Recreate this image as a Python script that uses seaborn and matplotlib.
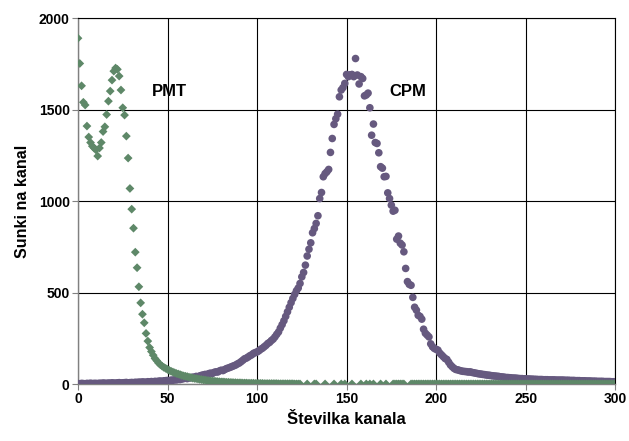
import numpy as np
import matplotlib
matplotlib.use('Agg')
import matplotlib.pyplot as plt
import seaborn as sns

# kanali 0..300
kanali = list(range(301))

# PMT (zeleni rombi), NaN = ni tocke
nan = np.nan
pmt = [
    1890, 1752, 1630, 1540, 1525, 1410, 1350, 1320, 1300, 1290,
    1280, 1246, 1290, 1320, 1380, 1406, 1473, 1546, 1601, 1661,
    1710, 1727, 1720, 1683, 1607, 1510, 1470, 1355, 1235, 1069,
    956, 852, 721, 636, 532, 444, 382, 335, 277, 235,
    200, 178, 158, 140, 128, 115, 106, 98, 91, 86,
    80, 75, 70, 66, 62, 58, 55, 52, 48, 45,
    43, 41, 38, 36, 33, 31, 30, 28, 26, 25,
    23, 22, 20, 19, 18, 17, 16, 15, 14, 13,
    12, 12, 11, 10, 10, 9, 9, 8, 8, 7,
    7, 7, 6, 6, 6, 5, 5, 5, 5, 4,
    4, 4, 4, 4, 3, 3, 3, 3, 3, 3,
    3, 3, 2, 2, 2, 2, 2, 2, 2, 2,
    2, 1, 1, 1, 1, nan, nan, nan, 1, nan,
    nan, nan, 1, 1, nan, nan, nan, nan, 1, nan,
    nan, nan, nan, 1, nan, nan, nan, 1, nan, 1,
    nan, nan, nan, 1, nan, nan, nan, nan, 1, nan,
    nan, 1, nan, 1, nan, 1, nan, nan, nan, 1,
    nan, nan, 1, nan, nan, nan, 1, 1, 1, 1,
    1, 1, 1, nan, nan, nan, 1, 1, 1, 1,
    1, 1, 1, 1, 1, 1, 1, 1, 1, 1,
    1, 1, 1, 1, 1, 1, 1, 1, 1, 1,
    1, 1, 1, 1, 1, 1, 1, 1, 1, 1,
    1, 1, 1, 1, 1, 1, 1, 1, 1, 1,
    1, 1, 1, 1, 1, 1, 1, 1, 1, 1,
    1, 1, 1, 1, 1, 1, 1, 1, 1, 1,
    1, 1, 1, 1, 1, 1, 1, 1, 1, 1,
    1, 1, 1, 1, 1, 1, 1, 1, 1, 1,
    1, 1, 1, 1, 1, 1, 1, 1, 1, 1,
    1, 1, 1, 1, 1, 1, 1, 1, 1, 1,
    1, 1, 1, 1, 1, 1, 1, 1, 1, 1,
    1,
]

# CPM (vijolicni krogi)
cpm = [
    3, 2, 4, 3, 2, 4, 3, 5, 3, 4,
    4, 3, 5, 4, 6, 5, 4, 6, 5, 7,
    6, 5, 7, 8, 6, 7, 8, 9, 7, 8,
    9, 8, 10, 9, 11, 10, 12, 11, 10, 13,
    12, 14, 13, 15, 14, 16, 17, 15, 18, 19,
    20, 18, 22, 21, 24, 23, 26, 25, 28, 30,
    32, 30, 35, 34, 38, 37, 42, 40, 45, 48,
    50, 53, 52, 57, 60, 58, 64, 67, 66, 72,
    76, 74, 80, 85, 88, 92, 96, 100, 104, 110,
    115, 122, 130, 138, 142, 148, 155, 160, 168, 172,
    176, 182, 190, 196, 204, 212, 222, 228, 238, 246,
    258, 272, 285, 306, 325, 346, 370, 395, 420, 445,
    468, 490, 510, 525, 550, 586, 610, 650, 700, 737,
    772, 827, 850, 878, 920, 1014, 1047, 1133, 1150, 1160,
    1173, 1266, 1342, 1419, 1450, 1475, 1570, 1607, 1620, 1643,
    1692, 1680, 1690, 1692, 1680, 1779, 1689, 1640, 1680, 1670,
    1575, 1580, 1590, 1510, 1360, 1421, 1320, 1315, 1264, 1188,
    1180, 1133, 1135, 1045, 1014, 978, 945, 950, 792, 809,
    770, 760, 723, 632, 560, 545, 540, 474, 420, 404,
    376, 370, 355, 300, 278, 268, 258, 220, 204, 195,
    190, 186, 170, 160, 150, 140, 135, 120, 105, 95,
    86, 80, 78, 75, 72, 70, 69, 68, 66, 67,
    64, 62, 60, 58, 56, 55, 53, 52, 50, 49,
    48, 46, 45, 44, 43, 42, 40, 39, 38, 36,
    36, 35, 34, 33, 33, 32, 31, 30, 30, 29,
    29, 28, 28, 27, 27, 26, 26, 25, 25, 25,
    24, 24, 24, 23, 23, 23, 23, 22, 22, 22,
    22, 22, 21, 21, 21, 20, 20, 20, 19, 19,
    19, 18, 18, 18, 17, 17, 17, 16, 16, 16,
    15, 15, 15, 15, 14, 14, 14, 14, 13, 13,
    13,
]

x_ticks = [0, 50, 100, 150, 200, 250, 300]
y_ticks = [0, 500, 1000, 1500, 2000]

sns.set_style('white')
plt.rcParams['font.family'] = ['Liberation Sans', 'DejaVu Sans']
plt.rcParams['font.weight'] = 'bold'
plt.rcParams['text.color'] = 'black'
plt.rcParams['axes.labelcolor'] = 'black'
plt.rcParams['xtick.color'] = 'black'
plt.rcParams['ytick.color'] = 'black'

fig = plt.figure(figsize=(6.29, 4.41), dpi=100)
ax = fig.add_axes([0.124, 0.129, 0.854, 0.830])

sns.scatterplot(x=kanali, y=cpm, marker='o', s=30, color='#66597f',
                edgecolor='none', ax=ax, zorder=3)
sns.scatterplot(x=kanali, y=pmt, marker='D', s=20, color='#5e8868',
                edgecolor='none', ax=ax, zorder=4)

ax.set_xlim(0, 300)
ax.set_ylim(0, 2000)
ax.set_xticks(x_ticks)
ax.set_yticks(y_ticks)
ax.grid(True, color='black', linewidth=0.8)
ax.set_axisbelow(True)
for s in ['top', 'right']:
    ax.spines[s].set_color('black')
    ax.spines[s].set_linewidth(0.8)
for s in ['left', 'bottom']:
    ax.spines[s].set_color('#808080')
    ax.spines[s].set_linewidth(1.0)
ax.tick_params(direction='out', length=4, width=0.8, color='#808080',
               labelcolor='black', labelsize=10, pad=2, left=True, bottom=True)
for lab in ax.get_xticklabels() + ax.get_yticklabels():
    lab.set_fontweight('bold')

ax.set_xlabel('Številka kanala', fontsize=12, fontweight='bold', labelpad=4)
ax.set_ylabel('Sunki na kanal', fontsize=11.5, fontweight='bold', labelpad=6)

ax.text(41.5, 1600, 'PMT', fontsize=12, fontweight='bold', va='center', ha='left')
ax.text(174, 1600, 'CPM', fontsize=12, fontweight='bold', va='center', ha='left')

fig.savefig('out.png', dpi=100)
